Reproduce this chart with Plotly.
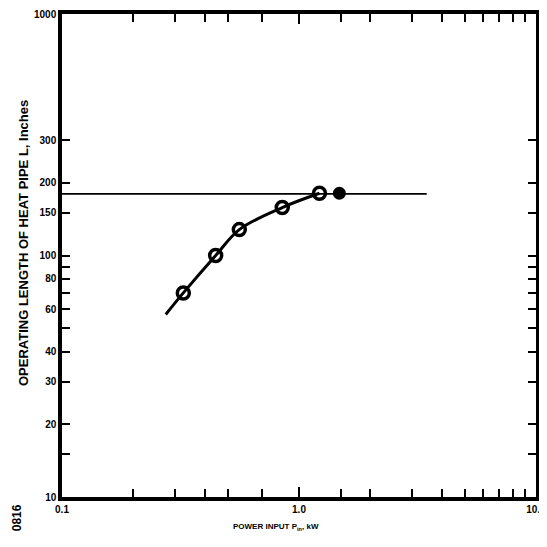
import plotly.graph_objects as go

# data
power_open = [0.325, 0.445, 0.56, 0.85, 1.22]
length_open = [70, 100, 128, 158, 181]
power_filled = [1.48]
length_filled = [181]
curve_power = [0.274, 0.325, 0.445, 0.56, 0.85, 1.22]
curve_length = [57, 70, 100, 128, 158, 181]
limit_power = [0.1, 3.46]
limit_length = [180, 180]

x_tickvals = [0.1, 1.0, 10]
x_ticktext = ["0.1", "1.0", "10.0"]
x_minor = [0.2, 0.3, 0.4, 0.5, 0.7, 1.5, 2, 3, 4, 5, 6, 7, 8, 9]
y_tickvals = [10, 20, 30, 40, 60, 80, 100, 150, 200, 300, 1000]
y_ticktext = ["10", "20", "30", "40", "60", "80", "100", "150", "200", "300", "1000"]
y_minor = [15, 50, 70, 90]

x_title = "POWER INPUT P<sub>in</sub>, kW"
y_title = "OPERATING LENGTH OF HEAT PIPE L, Inches"
fig_code = "0816"

font = "Liberation Sans"

fig = go.Figure()
fig.add_trace(go.Scatter(x=limit_power, y=limit_length, mode="lines",
                         line=dict(color="black", width=1.6), showlegend=False))
fig.add_trace(go.Scatter(x=curve_power, y=curve_length, mode="lines",
                         line=dict(color="black", width=3, shape="spline"), showlegend=False))
fig.add_trace(go.Scatter(x=power_open, y=length_open, mode="markers",
                         marker=dict(symbol="circle-open", size=12, color="black",
                                     line=dict(width=3.5, color="black")), showlegend=False))
fig.add_trace(go.Scatter(x=power_filled, y=length_filled, mode="markers",
                         marker=dict(symbol="circle", size=13, color="black"), showlegend=False))

minor_style = dict(ticks="inside", ticklen=8, tickwidth=2, tickcolor="black", showgrid=False)

fig.update_xaxes(type="log", range=[-1, 1], tickvals=x_tickvals, ticktext=x_ticktext,
                 minor=dict(tickmode="array", tickvals=x_minor, **minor_style),
                 ticks="inside", ticklen=10, tickwidth=2, tickcolor="black", tickangle=0,
                 ticklabeloverflow="allow",
                 showline=True, linewidth=3.5, linecolor="black", mirror="ticks",
                 showgrid=False, zeroline=False, automargin=False,
                 tickfont=dict(family=font, size=10, color="black", weight="bold"))
fig.update_yaxes(type="log", range=[1, 3], tickvals=y_tickvals, ticktext=y_ticktext,
                 minor=dict(tickmode="array", tickvals=y_minor, **minor_style),
                 ticks="inside", ticklen=8, tickwidth=2, tickcolor="black", tickangle=0,
                 ticklabeloverflow="allow",
                 showline=True, linewidth=3.5, linecolor="black", mirror="ticks",
                 showgrid=False, zeroline=False, automargin=False,
                 tickfont=dict(family=font, size=10, color="black", weight="bold"))

fig.add_annotation(text=x_title, xref="paper", yref="paper", x=0.452, y=-0.062,
                   xanchor="center", yanchor="middle", showarrow=False,
                   font=dict(family=font, size=8, color="black", weight="bold"))
fig.add_annotation(text=y_title, xref="paper", yref="paper", x=-0.08, y=0.526,
                   xanchor="center", yanchor="middle", textangle=-90, showarrow=False,
                   font=dict(family=font, size=13, color="black", weight="bold"))
fig.add_annotation(text=fig_code, xref="paper", yref="paper", x=-0.096, y=-0.043,
                   xanchor="center", yanchor="middle", textangle=-90, showarrow=False,
                   font=dict(family=font, size=12, color="black", weight="bold"))

fig.update_layout(width=547, height=547,
                  margin=dict(l=54, r=19, t=6, b=58, autoexpand=False),
                  plot_bgcolor="white", paper_bgcolor="white", showlegend=False)

fig.write_html("out.html")
